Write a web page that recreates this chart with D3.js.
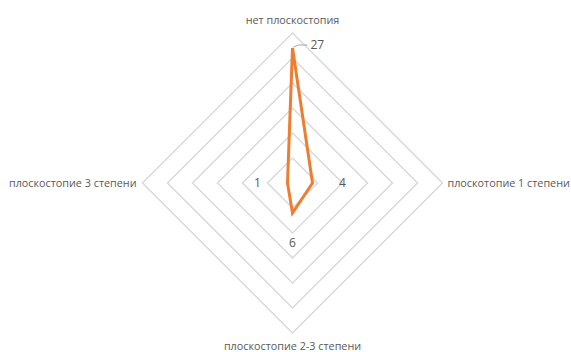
<!DOCTYPE html>
<html>
<head>
<meta charset="utf-8">
<script src="https://cdn.jsdelivr.net/npm/d3@7"></script>
<style>
  html, body { margin: 0; padding: 0; background: #fff; }
  svg { display: block; }
  text { font-family: "Open Sans", "Liberation Sans", sans-serif; fill: #595959; }
</style>
</head>
<body>
<svg id="chart" width="571" height="352"></svg>
<script>
// Radar chart: flat-foot distribution
const categories = [
  "нет плоскостопия",
  "плоскотопие 1 степени",
  "плоскостопие 2-3 степени",
  "плоскостопие 3 степени"
];
const values = [27, 4, 6, 1];
const gridLevels = [5, 10, 15, 20, 25, 30];
const maxValue = 30;

const svg = d3.select("#chart");
const cx = 292.5, cy = 183, radius = 150;

const r = d3.scaleLinear().domain([0, maxValue]).range([0, radius]);
const angle = d3.scaleBand().domain(categories).range([0, 2 * Math.PI]).paddingInner(0).paddingOuter(0);
const angleOf = c => angle(c); // top, right, bottom, left

const g = svg.append("g").attr("transform", `translate(${cx},${cy})`);

const pt = (a, d) => [Math.sin(a) * d, -Math.cos(a) * d];

// grid rings (diamonds)
const ringLine = d3.line().curve(d3.curveLinearClosed);
g.selectAll("path.ring")
  .data(gridLevels)
  .join("path")
  .attr("class", "ring")
  .attr("d", lv => ringLine(categories.map(c => pt(angleOf(c), r(lv)))))
  .attr("fill", "none")
  .attr("stroke", "#d9d9d9")
  .attr("stroke-width", 1.5);

// category labels
const catLabel = [
  { dx: 0, dy: -159, anchor: "middle" },
  { dx: 155, dy: 4, anchor: "start" },
  { dx: 0, dy: 167, anchor: "middle" },
  { dx: -156, dy: 4, anchor: "end" }
];
g.selectAll("text.cat")
  .data(categories)
  .join("text")
  .attr("class", "cat")
  .attr("x", (c, i) => catLabel[i].dx)
  .attr("y", (c, i) => catLabel[i].dy)
  .attr("text-anchor", (c, i) => catLabel[i].anchor)
  .attr("font-size", 10.8)
  .text(c => c);

// data polygon
const pts = categories.map((c, i) => pt(angleOf(c), r(values[i])));
g.append("path")
  .attr("d", ringLine(pts))
  .attr("fill", "none")
  .attr("stroke", "#ed7d31")
  .attr("stroke-width", 3)
  .attr("stroke-linejoin", "miter");

// value labels: pushed outward along each axis; the top one sits to the right with a leader line
const labelOffset = 30;
categories.forEach((c, i) => {
  const [px, py] = pts[i];
  if (i === 0) {
    g.append("path")
      .attr("d", `M${px + 1},${py - 1} L${px + 6},${py - 3} L${px + 15},${py - 3}`)
      .attr("fill", "none")
      .attr("stroke", "#a6a6a6")
      .attr("stroke-width", 1);
    g.append("text")
      .attr("x", px + 18)
      .attr("y", py + 1)
      .attr("font-size", 12)
      .text(values[i]);
  } else {
    const [ox, oy] = pt(angleOf(c), r(values[i]) + labelOffset);
    g.append("text")
      .attr("x", ox)
      .attr("y", oy + 4)
      .attr("text-anchor", "middle")
      .attr("font-size", 12)
      .text(values[i]);
  }
});
</script>
</body>
</html>
